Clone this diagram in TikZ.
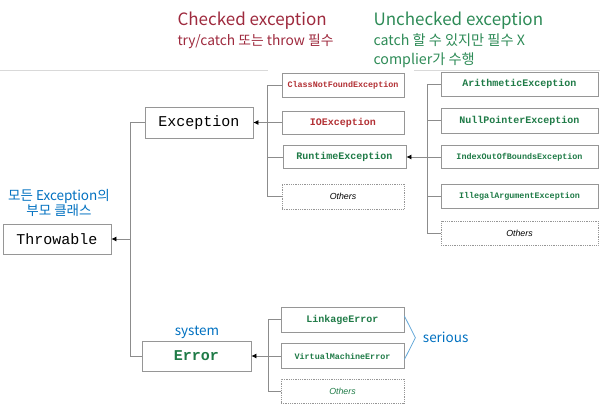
\documentclass[tikz,border=0pt]{standalone}
\usepackage{fontspec}
\setmonofont{Liberation Mono}
\newfontfamily\kofont{Noto Sans CJK KR}
\newfontfamily\othfont{Liberation Sans}
\usetikzlibrary{arrows.meta}
\usetikzlibrary{calc}

\definecolor{chkred}{RGB}{158,42,62}
\definecolor{unchkgreen}{RGB}{46,139,87}
\definecolor{boxred}{RGB}{178,48,52}
\definecolor{boxgreen}{RGB}{30,122,70}
\definecolor{noteblue}{RGB}{0,112,192}
\definecolor{boxgray}{RGB}{150,150,150}
\definecolor{treegray}{RGB}{140,140,140}

\newcommand{\fs}[1]{\fontsize{#1}{#1}\selectfont}

\begin{document}
\begin{tikzpicture}[x=1pt,y=-1pt,
  cls/.style={draw=boxgray,line width=.8pt,inner sep=0pt,font=\ttfamily},
  sub/.style={cls,font=\ttfamily\bfseries},
  others/.style={cls,densely dotted,font=\othfont\itshape\fs{8.8}},
  tree/.style={draw=treegray,line width=.8pt},
  arr/.style={tree,-{Latex[black,length=5pt,width=5pt]}},
  note/.style={font=\kofont,text=noteblue,align=center}]
  \useasboundingbox (0,0) rectangle (600,407);

  % header lines
  \draw[black!15,line width=.8pt] (0,70.5) -- (268,70.5);
  \draw[black!15,line width=.8pt] (414,70.5) -- (600,70.5);

  \node (ch) [anchor=west,font=\kofont\fs{17},text=chkred] at (174,21) {Checked exception};
  \node (chs) [anchor=west,font=\kofont\fs{13.8},text=chkred] at (174,41) {try/catch 또는 throw 필수};
  \node (uc) [anchor=west,font=\kofont\fs{17},text=unchkgreen] at (370,21) {Unchecked exception};
  \node (ucs) [anchor=west,font=\kofont\fontsize{14.2}{19}\selectfont,text=unchkgreen,align=left,
    inner ysep=0pt] at (370,50.5) {catch 할 수 있지만 필수 X\\complier가 수행};

  % main classes
  \node (thr) [cls,minimum width=108,minimum height=30,font=\ttfamily\fs{15}] at (57,239) {Throwable};
  \node (exc) [cls,minimum width=108,minimum height=31,font=\ttfamily\fs{15}] at (199,122.5) {Exception};
  \node (err) [sub,minimum width=109,minimum height=30,font=\ttfamily\bfseries\fs{15},text=boxgreen] at (196.5,356) {Error};

  \node (thrn) [note,font=\kofont\fs{13.5}] at (59,203) {모든 Exception의\\부모 클래스};
  \node (sysn) [note,font=\kofont\fs{13.5}] at (197,332) {system};

  % checked
  \node (cnf) [sub,minimum width=122,minimum height=24,text=boxred,font=\ttfamily\bfseries\fs{8.4}] at (343,85) {ClassNotFoundException};
  \node (ioe) [sub,minimum width=122,minimum height=23,text=boxred,font=\ttfamily\bfseries\fs{10}] at (343,122.5) {IOException};
  \node (rte) [sub,minimum width=123,minimum height=23,text=boxgreen,font=\ttfamily\bfseries\fs{10}] at (344.5,157) {RuntimeException};
  \node (oth1) [others,minimum width=122,minimum height=25] at (343,196.5) {Others};

  % unchecked
  \node (ari) [sub,minimum width=157,minimum height=24,text=boxgreen,font=\ttfamily\bfseries\fs{10}] at (519.5,84) {ArithmeticException};
  \node (npe) [sub,minimum width=157,minimum height=25,text=boxgreen,font=\ttfamily\bfseries\fs{10}] at (519.5,120.5) {NullPointerException};
  \node (iob) [sub,minimum width=157,minimum height=23,text=boxgreen,font=\ttfamily\bfseries\fs{8.4}] at (519.5,157) {IndexOutOfBoundsException};
  \node (iae) [sub,minimum width=157,minimum height=24,text=boxgreen,font=\ttfamily\bfseries\fs{8.4}] at (519.5,196) {IllegalArgumentException};
  \node (oth2) [others,minimum width=157,minimum height=24] at (519.5,233) {Others};

  % errors
  \node (lnk) [sub,minimum width=123,minimum height=25,text=boxgreen,font=\ttfamily\bfseries\fs{10}] at (342.5,319.5) {LinkageError};
  \node (vme) [sub,minimum width=123,minimum height=25,text=boxgreen,font=\ttfamily\bfseries\fs{8.4}] at (342.5,356) {VirtualMachineError};
  \node (oth3) [others,minimum width=123,minimum height=24,text=boxgreen] at (342.5,391) {Others};

  % tree lines
  \draw[tree] (exc.west) -- ++(-14,0) coordinate (tt) |- (err.west);
  \draw[arr] (tt |- thr.east) -- (thr.east);

  \draw[tree] (cnf.west) -- ++(-14,0) coordinate (te) |- (oth1.west);
  \draw[tree] (te |- rte.west) -- (rte.west);
  \draw[arr] (ioe.west) -- (exc.east);

  \draw[tree] (ari.west) -- ++(-13,0) coordinate (tu) |- (oth2.west);
  \draw[tree] (tu |- npe.west) -- (npe.west);
  \draw[tree] (tu |- iae.west) -- (iae.west);
  \draw[arr] (iob.west) -- (rte.east);

  \draw[tree] (lnk.west) -- ++(-12,0) coordinate (tr) |- (oth3.west);
  \draw[arr] (vme.west) -- (err.east);

  % serious
  \draw[noteblue!60,line width=.8pt] ([yshift=3.5]lnk.east) -- ([xshift=11]$(lnk.east)!.5!(vme.east)$)
    coordinate (bt) -- ([yshift=-3.5]vme.east);
  \node (ser) [note,font=\kofont\fs{13.5},anchor=west] at ([xshift=4]bt) {serious};
\end{tikzpicture}
\end{document}
